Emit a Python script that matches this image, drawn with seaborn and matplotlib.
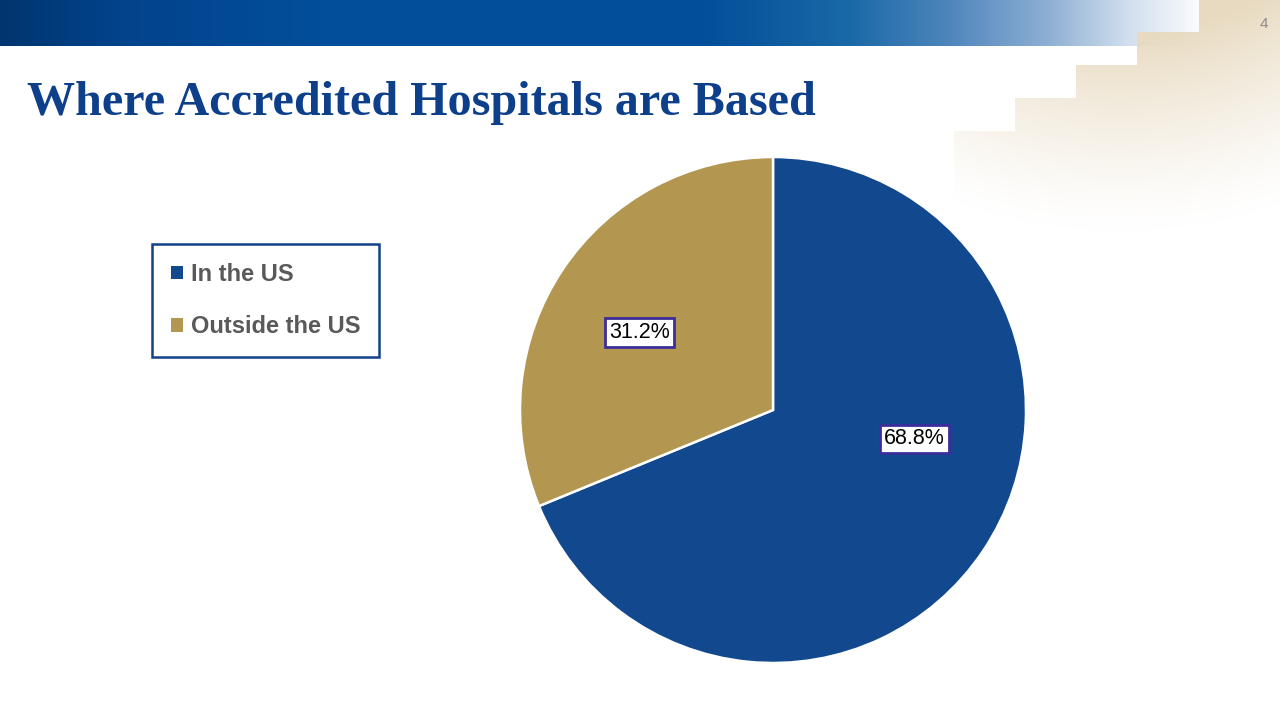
import matplotlib.pyplot as plt
import matplotlib.colors as mcolors
import numpy as np
import seaborn as sns

categories = ["In the US", "Outside the US"]
shares = [68.8, 31.2]
slice_colors = ["#12488E", "#B39750"]
title = "Where Accredited Hospitals are Based"
page_number = "4"

# label placement per slice (radius fraction, angle in degrees) - layout only
label_radius = [0.57, 0.61]
label_angle = [-11.6, 150.0]

sns.set_style("white")
plt.rcParams["font.family"] = ["Liberation Sans", "DejaVu Sans"]

W, H = 1280, 720
fig = plt.figure(figsize=(12.8, 7.2), dpi=100)

# -------------------------------
# slide background (gradient bar + beige stairs)
# -------------------------------
bg = np.ones((H, W, 3))
yy, xx = np.mgrid[0:H, 0:W]

stops_x = [0, 120, 320, 700, 850, 950, 1050, 1130, 1200]
stops_c = ["#00356F", "#02438C", "#034E9A", "#034E9A", "#1A69A7",
           "#4F86BC", "#90B0D4", "#D3E0EE", "#FBFCFE"]
stops_rgb = np.array([mcolors.to_rgb(c) for c in stops_c])
xs = np.arange(W)
bar_rgb = np.stack([np.interp(xs, stops_x, stops_rgb[:, k]) for k in range(3)], axis=1)
bar_rgb[xs > 1200] = 1.0
bg[0:46, :, :] = bar_rgb[None, :, :]

beige = np.array(mcolors.to_rgb("#E8DAC0"))
d = np.sqrt((xx - 1120.0) ** 2 + (yy + 260.0) ** 2)
alpha = np.clip((490 - d) / 200, 0, 1) ** 1.3
steps = [(1199, 0), (1137, 32), (1076, 65), (1015, 98), (954, 131)]
mask = np.zeros((H, W), dtype=bool)
for sx, sy in steps:
    mask |= (xx >= sx) & (yy >= sy)
alpha = alpha * mask
bg = bg * (1 - alpha[..., None]) + beige[None, None, :] * alpha[..., None]

bg_ax = fig.add_axes([0, 0, 1, 1], zorder=0)
bg_ax.imshow(bg, extent=[0, W, H, 0], aspect="auto")
bg_ax.set_xlim(0, W)
bg_ax.set_ylim(H, 0)
bg_ax.axis("off")

fig.text(27 / W, 1 - 115 / H, title, family=["Liberation Serif", "DejaVu Serif"],
         fontweight="bold", fontsize=34.7, color="#0E3F8A", ha="left", va="baseline", zorder=5)
fig.text(1264 / W, 1 - 24 / H, page_number, fontsize=11, color="#8C8C8C",
         ha="center", va="center", zorder=5)

# -------------------------------
# pie
# -------------------------------
cx, cy, r = 773, 410, 253
ax = fig.add_axes([(cx - r) / W, 1 - (cy + r) / H, 2 * r / W, 2 * r / H], zorder=2)
ax.patch.set_alpha(0)
wedges, texts, autotexts = ax.pie(
    shares,
    colors=slice_colors,
    startangle=90,
    counterclock=False,
    radius=1,
    autopct="%.1f%%",
    wedgeprops=dict(edgecolor="white", linewidth=1.8),
    textprops=dict(fontsize=15.5, color="black"),
)
for t, rad, ang in zip(autotexts, label_radius, label_angle):
    t.set_position((rad * np.cos(np.radians(ang)), rad * np.sin(np.radians(ang))))
    t.set_bbox(dict(boxstyle="square,pad=0.18", facecolor="white",
                    edgecolor="#3B2E9A", linewidth=2))
ax.set_xlim(-1, 1)
ax.set_ylim(-1, 1)
ax.set_aspect("auto")
ax.axis("off")

# -------------------------------
# legend
# -------------------------------
leg = fig.legend(
    wedges, categories,
    loc="upper left",
    bbox_to_anchor=(152 / W, 1 - 244 / H),
    borderaxespad=0,
    frameon=True,
    fancybox=False,
    framealpha=1,
    handlelength=0.5,
    handleheight=0.5,
    handletextpad=0.35,
    labelspacing=1.25,
    borderpad=0.8,
    prop=dict(size=17, weight="bold"),
)
leg.get_frame().set_edgecolor("#12408A")
leg.get_frame().set_linewidth(1.8)
leg.set_zorder(5)
for t in leg.get_texts():
    t.set_color("#595959")
for h in leg.legend_handles:
    h.set_edgecolor("none")

fig.savefig("out.png", dpi=100)
